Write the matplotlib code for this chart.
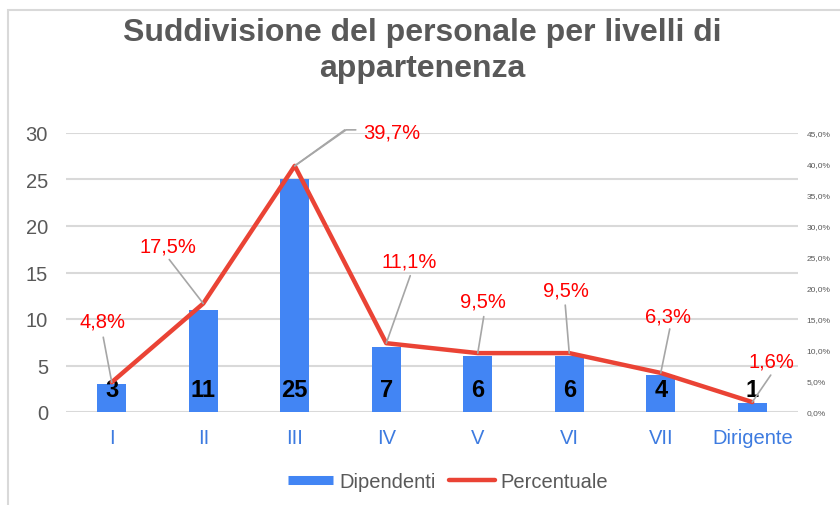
import matplotlib
matplotlib.use("Agg")
import matplotlib.pyplot as plt
from matplotlib.lines import Line2D
from matplotlib.patches import Rectangle
from matplotlib.ticker import FuncFormatter, MultipleLocator

plt.rcParams['font.family'] = ['Liberation Sans', 'DejaVu Sans']

categories = ['I', 'II', 'III', 'IV', 'V', 'VI', 'VII', 'Dirigente']
dipendenti = [3, 11, 25, 7, 6, 6, 4, 1]
percentuale = [4.8, 17.5, 39.7, 11.1, 9.5, 9.5, 6.3, 1.6]
pct_labels = ['4,8%', '17,5%', '39,7%', '11,1%', '9,5%', '9,5%', '6,3%', '1,6%']

# label placement (pixel offsets from the data point): text centre, leader end
text_off = [(-9, 61), (-35, 57), (97, 34), (23, 82), (5, 52), (-3, 63), (7, 57), (19, 41)]
lead_off = [(-8.5, 45), (-34, 44), (50, 36), (24, 67.5), (6, 36.5), (-4, 48), (9, 44), (18.5, 27)]

BLUE = '#4285F4'
RED = '#EA4335'
GRID = '#D9D9D9'
TXT = '#595959'
XLAB = '#3D7BE0'

W, H = 840, 506
fig = plt.figure(figsize=(W / 100, H / 100), dpi=100)
ax = fig.add_axes([66 / W, 1 - 413 / H, (798 - 66) / W, (413 - 134) / H])
ax2 = ax.twinx()

x = list(range(len(categories)))
ax.bar(x, dipendenti, width=0.32, color=BLUE, zorder=2)
ax.set_xlim(-0.5, len(categories) - 0.5)
ax.set_ylim(0, 30)
ax.yaxis.set_major_locator(MultipleLocator(5))
ax.grid(axis='y', color=GRID, linewidth=1.5, zorder=0)
ax.set_axisbelow(True)
for s in ax.spines.values():
    s.set_visible(False)
for s in ax2.spines.values():
    s.set_visible(False)
ax.tick_params(axis='y', length=0, pad=13, labelsize=14.5, labelcolor=TXT)
ax.set_xticks(x)
ax.set_xticklabels(categories)
ax.tick_params(axis='x', length=0, pad=11.5, labelsize=14.5, labelcolor=XLAB)

pct_frac = [p / 100 for p in percentuale]
ax2.plot(x, pct_frac, color=RED, linewidth=3.2, zorder=3, solid_capstyle='round')
ax2.set_ylim(0, 0.45)
ax2.yaxis.set_major_locator(MultipleLocator(0.05))
ax2.yaxis.set_major_formatter(FuncFormatter(lambda v, p: f"{v*100:.1f}%".replace('.', ',')))
ax2.tick_params(axis='y', length=0, pad=6, labelsize=6, labelcolor=TXT)
ax2.set_zorder(ax.get_zorder() + 1)
ax2.patch.set_visible(False)

# count labels inside bars
for xi, v in zip(x, dipendenti):
    ax.annotate(str(v), xy=(xi, 0), xytext=(0, 22), textcoords='offset pixels',
                ha='center', va='center', fontsize=17, fontweight='bold', color='black', zorder=5)

# percentage labels with leader lines
for xi, pf, lab, to, lo in zip(x, pct_frac, pct_labels, text_off, lead_off):
    ax2.annotate('', xy=(xi, pf), xytext=lo, textcoords='offset pixels',
                 arrowprops=dict(arrowstyle='-', color='#A6A6A6', lw=1.2, shrinkA=0, shrinkB=0))
    ax2.annotate(lab, xy=(xi, pf), xytext=to, textcoords='offset pixels',
                 ha='center', va='center', fontsize=14.5, color='#FF0000', zorder=6)
# horizontal tail of the peak leader
ip = percentuale.index(max(percentuale))
ax2.annotate('', xy=(ip, pct_frac[ip]), xytext=(lead_off[ip][0] + 11, lead_off[ip][1]),
             textcoords='offset pixels',
             arrowprops=dict(arrowstyle='-', color='#A6A6A6', lw=1.2, shrinkA=0, shrinkB=0,
                             connectionstyle='angle,angleA=0,angleB=35,rad=0'))

# title
fig.text(0.503, 1 - 51 / H, 'Suddivisione del personale per livelli di\nappartenenza',
         ha='center', va='center', fontsize=23, fontweight='bold', color=TXT, linespacing=1.3)

# legend
handles = [Line2D([0], [0], color=BLUE, lw=6.5, solid_capstyle='butt'),
           Line2D([0], [0], color=RED, lw=3.2, solid_capstyle='round')]
fig.legend(handles, ['Dipendenti', 'Percentuale'], loc='center', bbox_to_anchor=(448 / W, 1 - 483 / H),
           ncol=2, frameon=False, fontsize=14.5, handlelength=2.25, handletextpad=0.3,
           columnspacing=0.7, labelcolor=TXT)

# chart border (left and top visible)
fig.add_artist(Rectangle((8 / W, -0.1), 1.1, 1.1 - 11 / H, transform=fig.transFigure,
                         fill=False, edgecolor=GRID, linewidth=1.5))

fig.savefig('out.png', dpi=100)
